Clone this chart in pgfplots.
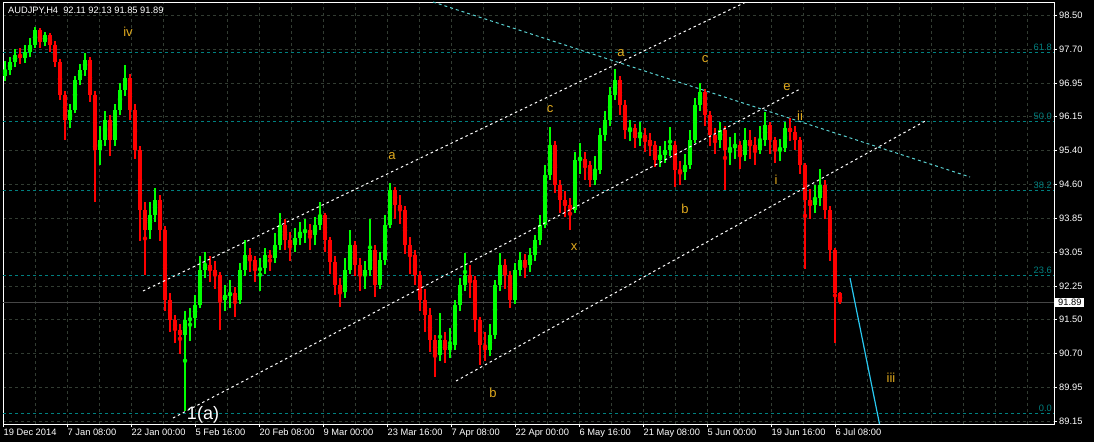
\documentclass[border=0pt]{standalone}
\usepackage{fontspec}
\setmainfont{Liberation Sans}
\usepackage{pgfplots}
\usepackage{pgfplotstable}
\pgfplotsset{compat=1.18}
\definecolor{upc}{RGB}{0,255,0}
\definecolor{dnc}{RGB}{255,0,0}
\definecolor{gridc}{RGB}{50,60,50}
\definecolor{fibc}{RGB}{0,128,128}
\definecolor{trendc}{RGB}{90,210,210}
\definecolor{projc}{RGB}{40,200,240}
\definecolor{wavec}{RGB}{225,170,30}
\definecolor{pricec}{RGB}{70,70,70}

\pgfplotstableread{
x o h l c
5 97.10 97.45 96.98 97.24
10 97.24 97.55 97.12 97.42
15 97.42 97.72 97.30 97.59
20 97.59 97.75 97.38 97.52
25 97.52 97.82 97.40 97.66
30 97.66 97.98 97.55 97.82
35 97.82 98.23 97.75 98.16
40 98.16 98.20 97.75 97.88
45 97.88 98.12 97.80 98.05
50 98.05 98.10 97.65 97.82
55 97.82 97.90 97.30 97.42
60 97.42 97.50 96.55 96.66
65 96.66 96.75 95.63 96.09
70 96.09 96.45 95.90 96.32
75 96.32 97.10 96.25 97.01
80 97.01 97.38 96.90 97.24
85 97.24 97.63 97.10 97.47
90 97.47 97.55 96.50 96.66
95 96.66 96.75 94.20 95.40
100 95.40 95.95 95.05 95.63
105 95.63 96.30 95.50 96.09
110 96.09 96.20 95.25 95.63
115 95.63 96.45 95.50 96.32
120 96.32 96.95 96.20 96.78
125 96.78 97.35 96.65 97.06
130 97.06 97.15 96.10 96.32
135 96.32 96.45 95.20 95.40
140 95.40 95.50 93.30 94.02
145 94.02 94.20 92.52 93.56
150 93.56 94.20 93.35 93.90
155 93.90 94.52 93.75 94.25
160 94.25 94.35 93.30 93.56
165 93.56 93.65 91.70 91.94
170 91.94 92.10 91.20 91.48
175 91.48 91.60 90.95 91.25
180 91.25 91.40 90.70 91.14
185 91.14 91.70 89.39 91.48
190 91.48 91.75 91.00 91.52
195 91.52 92.05 91.30 91.83
200 91.83 92.95 91.75 92.63
205 92.63 93.05 92.45 92.75
210 92.75 92.95 92.35 92.63
215 92.63 92.85 92.20 92.52
220 92.52 92.60 91.25 91.94
225 91.94 92.30 91.70 92.06
230 92.06 92.40 91.75 92.10
235 92.10 92.25 91.55 91.94
240 91.94 92.80 91.85 92.63
245 92.63 93.33 92.50 92.98
250 92.98 93.15 92.60 92.86
255 92.86 92.95 92.35 92.63
260 92.63 92.90 92.15 92.68
265 92.68 93.15 92.55 92.98
270 92.98 93.10 92.60 92.91
275 92.91 93.49 92.80 93.21
280 93.21 93.95 93.10 93.67
285 93.67 93.80 93.10 93.33
290 93.33 93.50 92.85 93.21
295 93.21 93.60 93.05 93.37
300 93.37 93.75 93.20 93.51
305 93.51 93.80 93.25 93.56
310 93.56 93.70 93.10 93.44
315 93.44 93.85 93.20 93.67
320 93.67 94.20 93.55 93.90
325 93.90 93.95 93.05 93.33
330 93.33 93.40 92.55 92.82
335 92.82 92.95 92.05 92.29
340 92.29 92.45 91.78 92.13
345 92.13 92.90 92.00 92.63
350 92.63 93.56 92.55 93.21
355 93.21 93.30 92.50 92.75
360 92.75 92.90 92.15 92.52
365 92.52 92.85 92.20 92.63
370 92.63 93.81 92.50 93.09
375 93.09 93.20 92.01 92.29
380 92.29 93.05 92.20 92.86
385 92.86 93.90 92.75 93.67
390 93.67 94.64 93.60 94.48
395 94.48 94.55 93.80 94.13
400 94.13 94.35 93.70 94.02
405 94.02 94.10 93.00 93.21
410 93.21 93.40 92.55 92.98
415 92.98 93.10 92.30 92.52
420 92.52 92.60 91.70 91.94
425 91.94 92.20 91.20 91.60
430 91.60 91.75 90.75 91.02
435 91.02 91.15 90.17 90.68
440 90.68 91.64 90.55 91.02
445 91.02 91.20 90.50 90.79
450 90.79 91.30 90.60 90.91
455 90.91 91.95 90.80 91.83
460 91.83 92.45 91.70 92.29
465 92.29 93.03 92.15 92.52
470 92.52 92.75 92.00 92.40
475 92.40 92.50 91.20 91.48
480 91.48 91.55 90.45 90.91
485 90.91 91.20 90.55 90.79
490 90.79 91.40 90.65 91.14
495 91.14 92.40 91.05 92.29
500 92.29 93.03 92.15 92.75
505 92.75 92.90 92.20 92.52
510 92.52 92.60 91.76 91.94
515 91.94 92.80 91.85 92.63
520 92.63 93.05 92.50 92.86
525 92.86 93.00 92.45 92.75
530 92.75 93.15 92.60 92.98
535 92.98 93.45 92.85 93.33
540 93.33 93.90 93.20 93.67
545 93.67 95.05 93.60 94.82
550 94.82 95.93 94.70 95.51
555 95.51 95.60 94.40 94.59
560 94.59 94.70 93.95 94.25
565 94.25 94.45 93.85 94.13
570 94.13 94.30 93.56 94.02
575 94.02 95.35 93.95 95.17
580 95.17 95.55 94.85 95.20
585 95.20 95.35 94.70 95.05
590 95.05 95.15 94.55 94.71
595 94.71 95.25 94.60 94.94
600 94.94 95.90 94.85 95.74
605 95.74 96.30 95.60 96.09
610 96.09 96.85 95.95 96.66
615 96.66 97.26 96.55 97.01
620 97.01 97.10 96.20 96.43
625 96.43 96.55 95.65 95.86
630 95.86 96.10 95.60 95.90
635 95.90 96.00 95.45 95.67
640 95.67 96.05 95.50 95.74
645 95.74 95.90 95.35 95.63
650 95.63 95.80 95.25 95.51
655 95.51 95.60 95.00 95.17
660 95.17 95.50 95.00 95.28
665 95.28 95.60 95.10 95.40
670 95.40 95.93 95.25 95.51
675 95.51 95.60 94.55 94.94
680 94.94 95.15 94.60 94.89
685 94.89 95.30 94.70 95.05
690 95.05 95.85 94.95 95.63
695 95.63 96.60 95.55 96.43
700 96.43 96.94 96.30 96.73
705 96.73 96.80 95.95 96.20
710 96.20 96.30 95.50 95.74
715 95.74 95.90 95.30 95.63
720 95.63 96.05 95.45 95.86
725 95.86 95.95 94.48 95.40
730 95.40 95.70 95.05 95.45
735 95.45 95.80 95.20 95.51
740 95.51 95.60 94.95 95.28
745 95.28 95.90 95.15 95.63
750 95.63 95.85 95.20 95.51
755 95.51 95.70 95.05 95.40
760 95.40 95.95 95.30 95.63
765 95.63 96.27 95.50 95.97
770 95.97 96.05 95.30 95.63
775 95.63 95.70 95.10 95.40
780 95.40 95.65 95.15 95.44
785 95.44 96.05 95.35 95.90
790 95.90 96.13 95.60 95.81
795 95.81 95.95 95.40 95.63
800 95.63 95.70 94.85 95.05
805 95.05 95.10 92.66 94.25
810 94.25 94.50 93.80 94.13
815 94.13 94.60 93.95 94.29
820 94.29 94.96 94.10 94.59
825 94.59 94.70 93.80 94.02
830 94.02 94.10 92.85 93.09
835 93.09 93.15 90.95 92.11
840 92.11 92.13 91.85 91.89
}\candles

\begin{document}
\begin{tikzpicture}
\fill[black] (-3pt,-18pt) rectangle (1091pt,424pt);
\path[use as bounding box] (-3pt,-18pt) rectangle (1091pt,424pt);
\begin{axis}[
  at={(0pt,0pt)}, anchor=south west, scale only axis,
  width=1051pt, height=422pt,
  xmin=3, xmax=1054, ymin=89.088, ymax=98.806,
  clip mode=individual,
  axis line style={white, line width=0.9pt},
  xtick={3,67,...,835},
  xticklabels={19 Dec 2014, 7 Jan 08:00, 22 Jan 00:00, 5 Feb 16:00, 20 Feb 08:00, 9 Mar 00:00, 23 Mar 16:00, 7 Apr 08:00, 22 Apr 00:00, 6 May 16:00, 21 May 08:00, 5 Jun 00:00, 19 Jun 16:00, 6 Jul 08:00},
  ytick={98.5,97.721,96.942,96.163,95.383,94.604,93.825,93.046,92.267,91.488,90.708,89.929,89.15},
  yticklabels={98.50,97.70,96.95,96.15,95.40,94.60,93.85,93.05,92.25,91.50,90.70,89.95,89.15},
  xtick pos=bottom, ytick pos=right, yticklabel pos=right,
  tick align=outside, major tick length=3pt, minor tick length=0pt,
  tick style={white, line width=0.8pt},
  minor xtick={35,67,...,1040},
  xmajorgrids=false, xminorgrids=true, ymajorgrids=true,
  major grid style={gridc, dash pattern=on 3pt off 3pt, line width=0.8pt},
  minor grid style={gridc, dash pattern=on 3pt off 3pt, line width=0.8pt},
  x tick label style={font=\fontsize{9.3}{10}\selectfont, text=white, anchor=north west, inner sep=0pt, xshift=0.5pt, yshift=-2pt},
  y tick label style={font=\fontsize{9.3}{10}\selectfont, text=white, anchor=west, inner sep=0pt, xshift=2pt},
]
% Fibonacci levels
\addplot[fibc, dash pattern=on 3pt off 3pt, line width=0.9pt] coordinates {(3,97.648) (1054,97.648)};
\addplot[fibc, dash pattern=on 3pt off 3pt, line width=0.9pt] coordinates {(3,96.065) (1054,96.065)};
\addplot[fibc, dash pattern=on 3pt off 3pt, line width=0.9pt] coordinates {(3,94.476) (1054,94.476)};
\addplot[fibc, dash pattern=on 3pt off 3pt, line width=0.9pt] coordinates {(3,92.519) (1054,92.519)};
\addplot[fibc, dash pattern=on 3pt off 3pt, line width=0.9pt] coordinates {(3,89.340) (1054,89.340)};
% current price line
\addplot[pricec, line width=0.9pt] coordinates {(3,91.89) (1054,91.89)};
% candles: wicks (the other direction is pushed far outside the clipped area)
\addplot[upc, only marks, mark=none, error bars/.cd, y dir=both, y explicit, error mark=none, error bar style={line width=1.8pt, upc}]
  table[x=x, y expr={(\thisrow{h}+\thisrow{l})/2 + 30*(\thisrow{o}>\thisrow{c})}, y error expr={(\thisrow{h}-\thisrow{l})/2}] {\candles};
\addplot[dnc, only marks, mark=none, error bars/.cd, y dir=both, y explicit, error mark=none, error bar style={line width=1.8pt, dnc}]
  table[x=x, y expr={(\thisrow{h}+\thisrow{l})/2 + 30*(\thisrow{c}>=\thisrow{o})}, y error expr={(\thisrow{h}-\thisrow{l})/2}] {\candles};
% candles: bodies
\addplot[upc, only marks, mark=none, error bars/.cd, y dir=both, y explicit, error mark=none, error bar style={line width=3.8pt, upc}]
  table[x=x, y expr={(\thisrow{o}+\thisrow{c})/2 + 30*(\thisrow{o}>\thisrow{c})}, y error expr={max(abs(\thisrow{c}-\thisrow{o})/2,0.012)}] {\candles};
\addplot[dnc, only marks, mark=none, error bars/.cd, y dir=both, y explicit, error mark=none, error bar style={line width=3.8pt, dnc}]
  table[x=x, y expr={(\thisrow{o}+\thisrow{c})/2 + 30*(\thisrow{c}>=\thisrow{o})}, y error expr={max(abs(\thisrow{c}-\thisrow{o})/2,0.012)}] {\candles};
% channel lines
\addplot[white, dash pattern=on 2.5pt off 3pt, line width=1pt] coordinates {(143,92.15) (746,98.806)};
\addplot[white, dash pattern=on 2.5pt off 3pt, line width=1pt] coordinates {(173,89.225) (800,96.80)};
\addplot[white, dash pattern=on 2.5pt off 3pt, line width=1pt] coordinates {(456,90.078) (927,96.088)};
% trend line
\addplot[trendc, dash pattern=on 3pt off 3pt, line width=1pt] coordinates {(433,98.806) (970,94.776)};
% projection
\addplot[projc, line width=1.2pt] coordinates {(850,92.45) (879.5,89.088)};
% fib labels
\node[text=fibc, anchor=south east, inner sep=0pt, yshift=1.5pt, font=\fontsize{9.3}{10}\selectfont] at (axis cs:1052,97.648) {61.8};
\node[text=fibc, anchor=south east, inner sep=0pt, yshift=1.5pt, font=\fontsize{9.3}{10}\selectfont] at (axis cs:1052,96.065) {50.0};
\node[text=fibc, anchor=south east, inner sep=0pt, yshift=1.5pt, font=\fontsize{9.3}{10}\selectfont] at (axis cs:1052,94.476) {38.2};
\node[text=fibc, anchor=south east, inner sep=0pt, yshift=1.5pt, font=\fontsize{9.3}{10}\selectfont] at (axis cs:1052,92.519) {23.6};
\node[text=fibc, anchor=south east, inner sep=0pt, yshift=1.5pt, font=\fontsize{9.3}{10}\selectfont] at (axis cs:1052,89.340) {0.0};
% wave labels
\node[text=wavec, font=\fontsize{13}{14}\selectfont] at (axis cs:128,98.115) {iv};
\node[text=white, font=\fontsize{18}{20}\selectfont] at (axis cs:203,89.30) {1(a)};
\node[text=wavec, font=\fontsize{13}{14}\selectfont] at (axis cs:392,95.259) {a};
\node[text=wavec, font=\fontsize{13}{14}\selectfont] at (axis cs:550,96.342) {c};
\node[text=wavec, font=\fontsize{13}{14}\selectfont] at (axis cs:493,89.801) {b};
\node[text=wavec, font=\fontsize{13}{14}\selectfont] at (axis cs:574,93.163) {x};
\node[text=wavec, font=\fontsize{13}{14}\selectfont] at (axis cs:621,97.631) {a};
\node[text=wavec, font=\fontsize{13}{14}\selectfont] at (axis cs:705,97.493) {c};
\node[text=wavec, font=\fontsize{13}{14}\selectfont] at (axis cs:787,96.848) {e};
\node[text=wavec, font=\fontsize{13}{14}\selectfont] at (axis cs:800,96.180) {ii};
\node[text=wavec, font=\fontsize{13}{14}\selectfont] at (axis cs:685,94.039) {b};
\node[text=wavec, font=\fontsize{13}{14}\selectfont] at (axis cs:776,94.707) {i};
\node[text=wavec, font=\fontsize{13}{14}\selectfont] at (axis cs:891,90.147) {iii};
% title
\node[text=white, anchor=west, inner sep=0pt, font=\fontsize{9.3}{10}\selectfont] at (axis cs:8,98.606) {AUDJPY,H4\ \ 92.11 92.13 91.85 91.89};
% current price tag
\node[fill=white, text=black, anchor=west, inner xsep=3pt, inner ysep=1.5pt, xshift=1pt, font=\fontsize{9.3}{10}\selectfont] at (axis cs:1054,91.89) {91.89};
\end{axis}
\end{tikzpicture}
\end{document}
